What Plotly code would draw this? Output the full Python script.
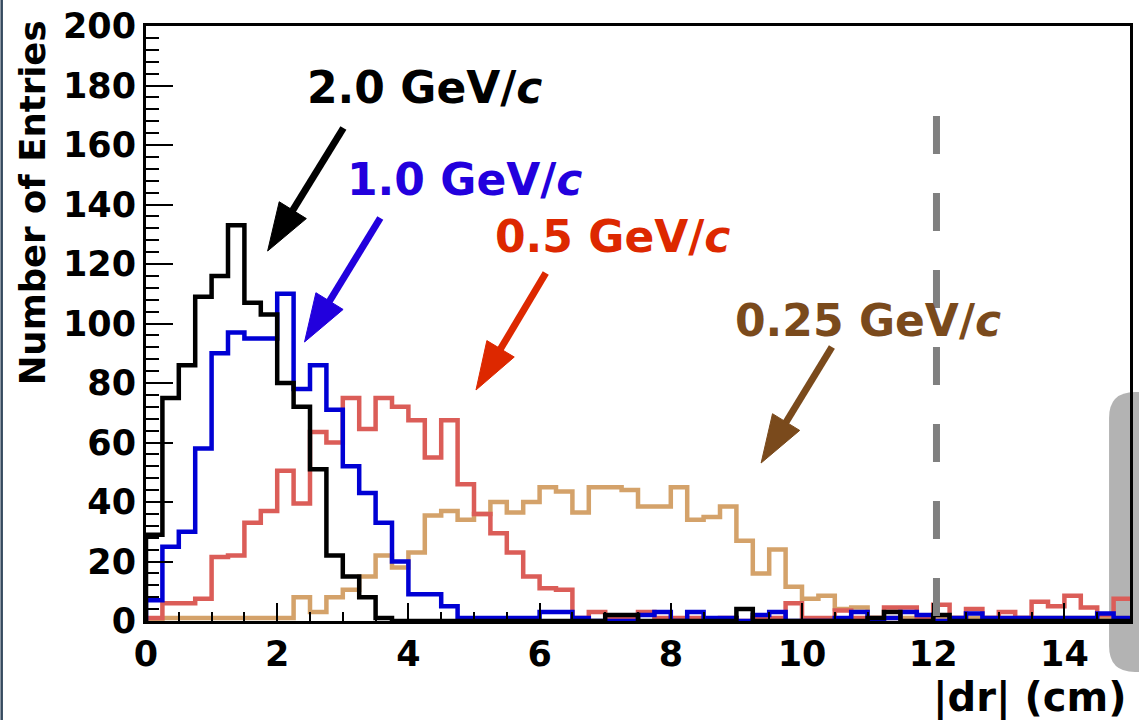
import numpy as np
import plotly.graph_objects as go

# ---------------- data (entries per 0.25 cm bin, 0..15 cm) ----------------
bin_width = 0.25
x_min, x_max = 0.0, 15.0

p_2p0 = [29, 75, 86, 109, 116, 133, 107, 103, 80, 72, 51, 22, 15, 8, 1,
         0, 0, 0, 0, 0, 0, 0, 0, 0, 0, 0, 0, 0, 2, 2,
         0, 0, 0, 0, 0, 0, 4, 0, 0, 0, 0, 0, 0, 0, 1,
         3, 0, 0, 2, 0, 0, 0, 0, 0, 0, 0, 0, 0, 0, 0]

p_1p0 = [7, 25, 30, 58, 90, 97, 95, 95, 110, 78, 86, 71, 52, 43, 33,
         20, 9, 9, 5, 1, 1, 1, 1, 1, 3, 3, 1, 0, 0, 0,
         2, 3, 0, 3, 1, 1, 0, 2, 3, 0, 0, 0, 1, 3, 0,
         1, 3, 2, 0, 1, 2.5, 1, 1, 1, 1, 1, 1, 1, 2.5, 1]

p_0p5 = [1, 6, 6, 7.5, 21.5, 22, 33, 37, 50.5, 39.5, 63.5, 60, 75, 64.5, 75,
         72, 67.5, 55, 67.5, 46, 36, 29.5, 23, 15, 11, 10.5, 1, 3, 1, 1,
         3, 1, 1, 1, 0, 1, 0, 1, 1, 6, 1, 1, 3.5, 1, 1,
         4.5, 4.5, 1, 5.5, 1, 4, 1, 3, 1, 6.5, 5, 8.5, 4.5, 2, 7.5]

p_0p25 = [0, 1, 1, 1, 1, 1, 1, 1, 1, 8, 3, 8, 10.5, 15, 22,
          18, 23, 35.5, 37, 34, 36, 40, 36.5, 40, 45, 43.5, 36.5, 45, 45, 44,
          38.5, 38.5, 45, 34, 35, 38.5, 27, 16, 24, 11.5, 7.5, 8.5, 4, 4.5, 1,
          1, 1, 1, 1, 1, 1, 1, 1, 1, 1, 1, 1, 1, 1, 1]

labels = ["2.0 GeV/<i>c</i>", "1.0 GeV/<i>c</i>", "0.5 GeV/<i>c</i>", "0.25 GeV/<i>c</i>"]
x_ticks = [0, 2, 4, 6, 8, 10, 12, 14]
y_ticks = [0, 20, 40, 60, 80, 100, 120, 140, 160, 180, 200]
cut_value = 12.05
y_max = 200

# ---------------- layout geometry ----------------
W, H = 1139, 720
ML, MR, MT, MB = 146, 6, 26, 99
PW, PH = W - ML - MR, H - MT - MB
def px2x(px):
    return (px - ML) / PW * (x_max - x_min) + x_min
def py2y(py):
    return (H - MB - py) / PH * y_max
def px2p(px):
    return (px - ML) / PW
def py2p(py):
    return (H - MB - py) / PH

FONT = "DejaVu Sans"

fig = go.Figure()

def add_hist(vals, color):
    edges = np.arange(len(vals) + 1) * bin_width + x_min
    xs = [edges[0]] + list(edges)
    ys = [0] + list(vals) + [vals[-1]]
    fig.add_trace(go.Scatter(x=xs, y=ys, mode="lines",
                             line=dict(color=color, width=4.5, shape="hv"),
                             hoverinfo="skip", showlegend=False))

add_hist(p_0p25, "#d4a26a")
add_hist(p_0p5, "#db5d58")
add_hist(p_1p0, "#0000d4")
add_hist(p_2p0, "#000000")

shapes = []
# background artefacts (window edge / scrollbar)
shapes.append(dict(type="rect", xref="paper", yref="paper", layer="below",
                   x0=px2p(0), x1=px2p(2.5), y0=py2p(H), y1=py2p(0),
                   fillcolor="#34495e", line=dict(width=0)))
Lx, Rx, T, B, r = 1112, 1150, 392, 672, 26
path = (f"M {px2p(Rx)},{py2p(T)} L {px2p(Lx + r)},{py2p(T)} "
        f"Q {px2p(Lx)},{py2p(T)} {px2p(Lx)},{py2p(T + r)} "
        f"L {px2p(Lx)},{py2p(B - r)} Q {px2p(Lx)},{py2p(B)} {px2p(Lx + r)},{py2p(B)} "
        f"L {px2p(Rx)},{py2p(B)} Z")
shapes.append(dict(type="path", xref="paper", yref="paper", layer="below", path=path,
                   fillcolor="#b3b3b3", line=dict(width=0)))

# dashed cut line
shapes.append(dict(type="line", xref="x", yref="y", layer="above",
                   x0=cut_value, x1=cut_value, y0=py2y(116), y1=0,
                   line=dict(color="#808080", width=7, dash="38px,39px")))

# arrows (tail px, tip px)
arrow_specs = [
    ((344, 128), (268, 251), "#000000"),
    ((381, 218), (305, 342), "#2200dd"),
    ((547, 273), (477, 390), "#dd2800"),
    ((834, 347), (763, 463), "#7a4a1c"),
]
HL, HW = 48, 32
for (tx, ty), (hx, hy), col in arrow_specs:
    d = np.array([hx - tx, hy - ty], float)
    d /= np.linalg.norm(d)
    n = np.array([-d[1], d[0]])
    base = np.array([hx, hy]) - HL * d
    c1 = base + HW / 2 * n
    c2 = base - HW / 2 * n
    sx, sy = base + 4 * d
    shapes.append(dict(type="line", xref="x", yref="y", layer="above",
                       x0=px2x(tx), y0=py2y(ty), x1=px2x(sx), y1=py2y(sy),
                       line=dict(color=col, width=7)))
    p = (f"M {px2x(hx)},{py2y(hy)} L {px2x(c1[0])},{py2y(c1[1])} "
         f"L {px2x(c2[0])},{py2y(c2[1])} Z")
    shapes.append(dict(type="path", xref="x", yref="y", layer="above", path=p,
                       fillcolor=col, line=dict(color=col, width=1)))

annotations = []
label_pos = [((425, 87), "#000000"), ((465, 179), "#2200dd"),
             ((614, 236), "#dd2800"), ((870, 320), "#7a4a1c")]
for txt, ((cx, cy), col) in zip(labels, label_pos):
    annotations.append(dict(x=px2x(cx), y=py2y(cy), xref="x", yref="y", text=txt,
                            showarrow=False, xanchor="center", yanchor="middle",
                            font=dict(family=FONT, size=44, color=col, weight="bold")))

annotations.append(dict(x=px2p(32), y=py2p(203), xref="paper", yref="paper",
                        text="Number of Entries", textangle=-90, showarrow=False,
                        xanchor="center", yanchor="middle",
                        font=dict(family=FONT, size=35.5, color="black", weight="bold")))
annotations.append(dict(x=px2p(1131), y=py2p(698), xref="paper", yref="paper",
                        text="|dr| (cm)", showarrow=False,
                        xanchor="right", yanchor="middle",
                        font=dict(family=FONT, size=40, color="black", weight="bold")))

tickfont = dict(family=FONT, size=35, color="black", weight="bold")
fig.update_layout(
    width=W, height=H, margin=dict(l=ML, r=MR, t=MT, b=MB),
    paper_bgcolor="white", plot_bgcolor="rgba(0,0,0,0)",
    showlegend=False, shapes=shapes, annotations=annotations,
    xaxis=dict(range=[x_min, x_max], tickmode="array", tickvals=x_ticks,
               ticks="inside", ticklen=18, tickwidth=2, tickcolor="black",
               showline=True, linecolor="black", linewidth=3, mirror=True,
               showgrid=False, zeroline=False, tickfont=tickfont,
               minor=dict(dtick=0.5, ticks="inside", ticklen=9, tickwidth=2,
                          tickcolor="black", showgrid=False)),
    yaxis=dict(range=[0, y_max], tickmode="array", tickvals=y_ticks,
               ticks="inside", ticklen=27, tickwidth=2, tickcolor="black",
               showline=True, linecolor="black", linewidth=3, mirror=True,
               showgrid=False, zeroline=False, tickfont=tickfont,
               minor=dict(dtick=4, ticks="inside", ticklen=13, tickwidth=2,
                          tickcolor="black", showgrid=False)),
)

fig.write_html("out.html")
